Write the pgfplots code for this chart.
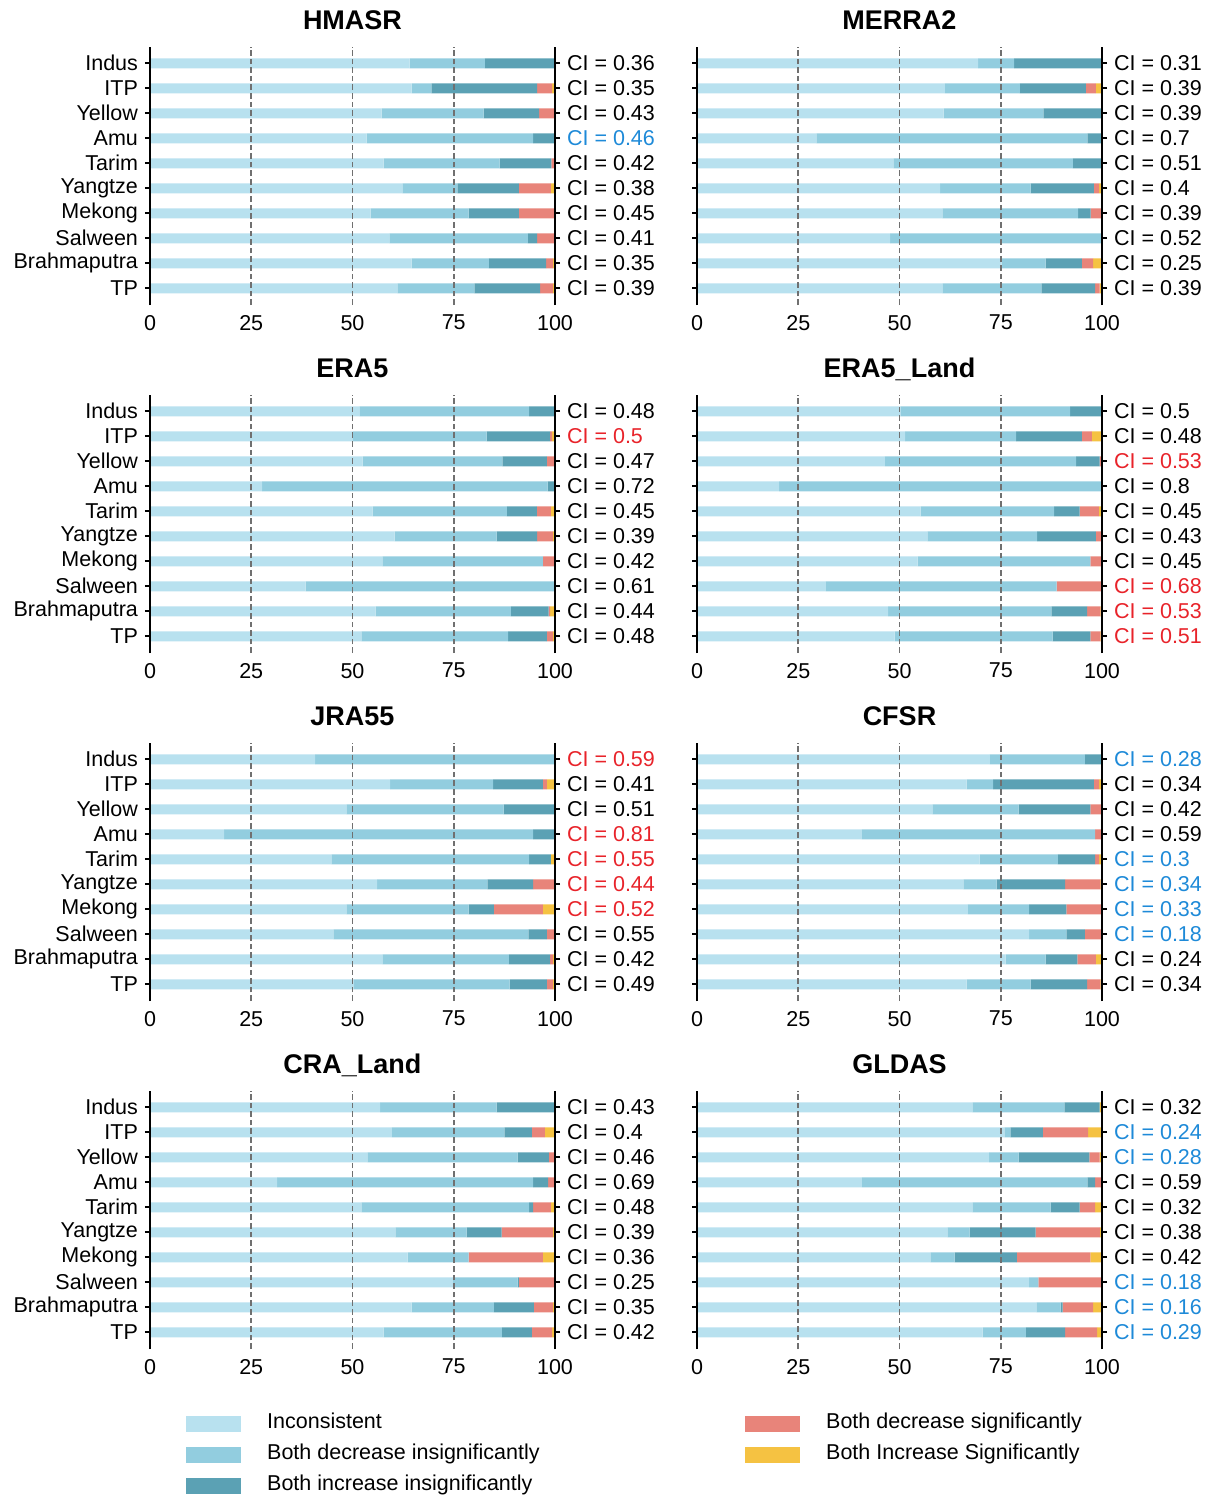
\documentclass[border=0pt]{standalone}
\usepackage{pgfplots}
\pgfplotsset{compat=1.18}
\usepackage{pgfplotstable}
\usepackage{fontspec}
\setmainfont{Liberation Sans}
\definecolor{cInc}{HTML}{B8E1EF}
\definecolor{cDecI}{HTML}{92CDDF}
\definecolor{cIncI}{HTML}{5BA1B4}
\definecolor{cDecS}{HTML}{E8847A}
\definecolor{cIncS}{HTML}{F5C242}
\definecolor{cired}{HTML}{E8232A}
\definecolor{ciblue}{HTML}{1E8AD8}
\definecolor{gridc}{HTML}{707070}
\newcommand{\lbl}{\fontsize{10.75}{13}\selectfont}
\newcommand{\ttl}{\bfseries\fontsize{13.5}{16}\selectfont}

% y: 0=TP ... 9=Indus ; a=Inconsistent b=Both dec insig c=Both inc insig d=Both dec sig e=Both inc sig
\pgfplotstableread{
y a b c d e
0 61.1 19.0 16.2 3.2 0.5
1 64.6 19.1 14.1 1.7 0.5
2 59.1 34.2 2.3 4.4 0
3 54.5 24.2 12.4 8.9 0
4 62.3 13.6 15.2 7.9 1.0
5 57.7 28.6 12.8 0.9 0
6 53.5 41.1 5.4 0 0
7 57.2 25.2 13.7 3.9 0
8 64.6 4.9 26.1 3.7 0.7
9 64.1 18.6 17.3 0 0
}\tHM
\pgfplotstableread{
y a b c d e
0 60.6 24.4 13.3 1.1 0.6
1 75.2 10.9 8.9 2.8 2.2
2 47.7 52.3 0 0 0
3 60.6 33.5 3.1 2.8 0
4 60.0 22.4 15.6 1.3 0.7
5 48.5 44.3 7.2 0 0
6 29.5 66.9 3.6 0 0
7 60.9 24.6 14.3 0.2 0
8 61.2 18.5 16.3 2.5 1.5
9 69.4 8.9 21.7 0 0
}\tME
\pgfplotstableread{
y a b c d e
0 52.2 36.2 9.6 1.5 0.5
1 55.7 33.4 9.3 0.4 1.2
2 38.4 61.6 0 0 0
3 57.4 39.6 0 3.0 0
4 60.4 25.2 10.0 3.9 0.5
5 55.0 33.1 7.4 3.5 1.0
6 27.7 70.5 1.8 0 0
7 52.5 34.5 11.0 2.0 0
8 50.1 33.0 15.7 0.5 0.7
9 51.7 41.9 6.4 0 0
}\tEA
\pgfplotstableread{
y a b c d e
0 48.8 39.0 9.3 2.5 0.4
1 47.2 40.3 8.8 3.3 0.4
2 31.8 57.0 0 11.2 0
3 54.5 42.6 0 2.9 0
4 56.9 27.1 14.5 1.5 0
5 55.2 33.0 6.3 4.7 0.8
6 20.3 79.7 0 0 0
7 46.4 47.2 5.8 0.6 0
8 51.4 27.4 16.2 2.5 2.5
9 50.2 41.9 7.9 0 0
}\tEL
\pgfplotstableread{
y a b c d e
0 50.2 38.6 9.2 1.5 0.5
1 57.4 31.2 10.2 0.7 0.5
2 45.3 48.1 4.6 2.0 0
3 48.5 30.2 6.2 12.1 3.0
4 56.1 27.2 11.3 5.4 0
5 44.8 48.8 5.4 0 1.0
6 18.3 76.3 5.4 0 0
7 48.5 38.8 12.5 0.2 0
8 59.3 25.4 12.3 1.0 2.0
9 40.8 59.2 0 0 0
}\tJR
\pgfplotstableread{
y a b c d e
0 66.6 15.8 13.9 3.3 0.4
1 76.2 9.9 7.8 4.6 1.5
2 82.0 9.2 4.6 4.2 0
3 66.9 15.1 9.2 8.8 0
4 65.8 8.2 16.9 8.7 0.4
5 69.8 19.3 9.2 1.0 0.7
6 40.7 57.6 0 1.7 0
7 58.1 21.3 17.7 2.9 0
8 66.6 6.5 24.9 1.3 0.7
9 72.3 23.5 4.2 0 0
}\tCF
\pgfplotstableread{
y a b c d e
0 57.7 29.2 7.4 5.0 0.7
1 64.6 20.3 9.9 4.7 0.5
2 74.8 16.0 0.3 8.9 0
3 63.6 15.1 0 18.3 3.0
4 60.6 17.6 8.6 12.7 0.5
5 52.2 41.4 1.0 4.4 1.0
6 31.4 63.2 3.7 1.7 0
7 53.7 37.1 7.7 1.5 0
8 59.7 27.8 6.8 3.2 2.5
9 56.8 28.8 14.4 0 0
}\tCR
\pgfplotstableread{
y a b c d e
0 70.5 10.7 9.7 7.9 1.2
1 83.8 6.0 0.5 7.5 2.2
2 82.0 2.3 0 15.7 0
3 57.6 6.0 15.4 18.1 2.9
4 61.8 5.5 16.3 15.9 0.5
5 68.0 19.3 7.2 3.8 1.7
6 40.7 55.7 1.9 1.7 0
7 72.1 7.3 17.5 2.5 0.6
8 75.9 1.5 8.0 11.2 3.4
9 68.0 22.7 8.7 0 0.6
}\tGL

\pgfplotsset{
  panelbase/.style={
    scale only axis, width=202.5pt, height=129.25pt,
    anchor=south west,
    xmin=0, xmax=100, ymin=-0.67, ymax=9.67,
    ytick={0,...,9},
    tick label style={font=\lbl},
    /pgf/number format/assume math mode=true,
    major tick length=2.5pt,
    every tick/.style={black, line width=0.8pt},
    axis line style={black, line width=0.8pt},
  },
  mainax/.style={
    panelbase,
    xbar stacked, bar width=5pt,
    axis y line*=left, axis x line*=bottom,
    x axis line style={draw=none},
    tick align=outside,
    xtick={0,25,50,75,100},
    xtick style={draw=none},
    xticklabel style={yshift=1pt},
    xmajorgrids,
    grid style={gridc, line width=0.8pt, dash pattern=on 2.8pt off 1.5pt},
    axis on top,
    yticklabels={TP,Brahmaputra,Salween,Mekong,Yangtze,Tarim,Amu,Yellow,ITP,Indus},
    title style={font=\ttl, at={(0.5,1)}, anchor=base, yshift=2.3pt},
  },
  ciax/.style={
    panelbase,
    axis y line*=right, axis x line=none,
    tick align=outside,
  },
  sw/.style={legend image code/.code={\fill[#1] (0pt,-3.75pt) rectangle (27pt,3.75pt);}},
  legax/.style={anchor=north west, scale only axis, width=10pt, height=10pt,
    hide axis, xmin=0, xmax=1, ymin=0, ymax=1,
    legend style={at={(0,1)}, anchor=north west, draw=none, fill=none, inner sep=0pt, font=\lbl,
      row sep=3pt, nodes={inner sep=1pt, text height=8pt, text depth=2.5pt},
      /tikz/every odd column/.append style={column sep=12pt}},
    legend cell align=left},
}

\newcommand{\panel}[5][]{%
\begin{axis}[mainax, at={(#2)}, title={#3}, #1]
\addplot[fill=cInc, draw=none] table[x=a,y=y]{#4};
\addplot[fill=cDecI, draw=none] table[x=b,y=y]{#4};
\addplot[fill=cIncI, draw=none] table[x=c,y=y]{#4};
\addplot[fill=cDecS, draw=none] table[x=d,y=y]{#4};
\addplot[fill=cIncS, draw=none] table[x=e,y=y]{#4};
\end{axis}
\begin{axis}[ciax, at={(#2)}, yticklabels={#5}]
\end{axis}}

\begin{document}
\begin{tikzpicture}
\path[use as bounding box] (0,0) rectangle (605pt,-748pt);

\panel{75pt,-152.5pt}{HMASR}{\tHM}{CI = 0.39,CI = 0.35,CI = 0.41,CI = 0.45,CI = 0.38,CI = 0.42,\textcolor{ciblue}{CI = 0.46},CI = 0.43,CI = 0.35,CI = 0.36}
\panel[yticklabels={}]{348.5pt,-152.5pt}{MERRA2}{\tME}{CI = 0.39,CI = 0.25,CI = 0.52,CI = 0.39,CI = 0.4,CI = 0.51,CI = 0.7,CI = 0.39,CI = 0.39,CI = 0.31}
\panel{75pt,-326.5pt}{ERA5}{\tEA}{CI = 0.48,CI = 0.44,CI = 0.61,CI = 0.42,CI = 0.39,CI = 0.45,CI = 0.72,CI = 0.47,\textcolor{cired}{CI = 0.5},CI = 0.48}
\panel[yticklabels={}]{348.5pt,-326.5pt}{ERA5\_Land}{\tEL}{\textcolor{cired}{CI = 0.51},\textcolor{cired}{CI = 0.53},\textcolor{cired}{CI = 0.68},CI = 0.45,CI = 0.43,CI = 0.45,CI = 0.8,\textcolor{cired}{CI = 0.53},CI = 0.48,CI = 0.5}
\panel{75pt,-500.5pt}{JRA55}{\tJR}{CI = 0.49,CI = 0.42,CI = 0.55,\textcolor{cired}{CI = 0.52},\textcolor{cired}{CI = 0.44},\textcolor{cired}{CI = 0.55},\textcolor{cired}{CI = 0.81},CI = 0.51,CI = 0.41,\textcolor{cired}{CI = 0.59}}
\panel[yticklabels={}]{348.5pt,-500.5pt}{CFSR}{\tCF}{CI = 0.34,CI = 0.24,\textcolor{ciblue}{CI = 0.18},\textcolor{ciblue}{CI = 0.33},\textcolor{ciblue}{CI = 0.34},\textcolor{ciblue}{CI = 0.3},CI = 0.59,CI = 0.42,CI = 0.34,\textcolor{ciblue}{CI = 0.28}}
\panel{75pt,-674.5pt}{CRA\_Land}{\tCR}{CI = 0.42,CI = 0.35,CI = 0.25,CI = 0.36,CI = 0.39,CI = 0.48,CI = 0.69,CI = 0.46,CI = 0.4,CI = 0.43}
\panel[yticklabels={}]{348.5pt,-674.5pt}{GLDAS}{\tGL}{\textcolor{ciblue}{CI = 0.29},\textcolor{ciblue}{CI = 0.16},\textcolor{ciblue}{CI = 0.18},CI = 0.42,CI = 0.38,CI = 0.32,CI = 0.59,\textcolor{ciblue}{CI = 0.28},\textcolor{ciblue}{CI = 0.24},CI = 0.32}

\begin{axis}[legax, at={(93pt,-705.25pt)}]
\addlegendimage{sw=cInc}
\addlegendentry{Inconsistent}
\addlegendimage{sw=cDecI}
\addlegendentry{Both decrease insignificantly}
\addlegendimage{sw=cIncI}
\addlegendentry{Both increase insignificantly}
\end{axis}

\begin{axis}[legax, at={(372.5pt,-705.25pt)}]
\addlegendimage{sw=cDecS}
\addlegendentry{Both decrease significantly}
\addlegendimage{sw=cIncS}
\addlegendentry{Both Increase Significantly}
\end{axis}
\end{tikzpicture}
\end{document}
